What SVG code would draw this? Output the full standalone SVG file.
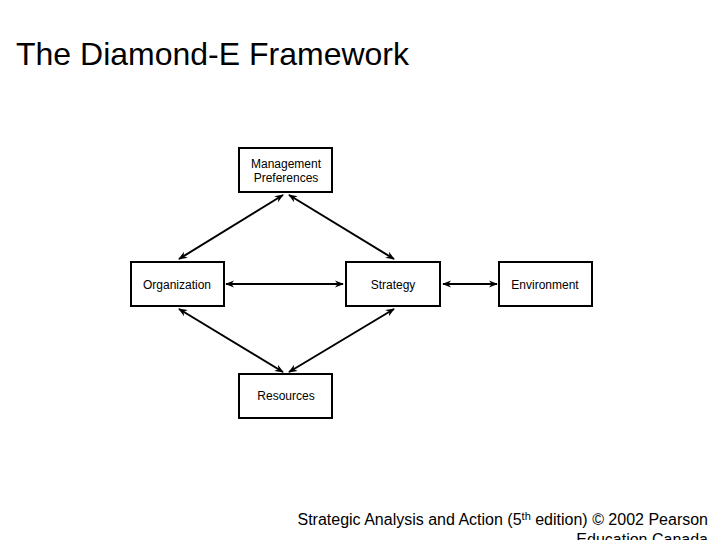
<svg xmlns="http://www.w3.org/2000/svg" width="720" height="540" viewBox="0 0 720 540">
<defs>
<marker id="ah" viewBox="0 0 10 10" refX="9" refY="5" markerWidth="9" markerHeight="9" orient="auto-start-reverse" markerUnits="userSpaceOnUse"><path d="M0,1 L10,5 L0,9 L3,5 z" fill="#000"/></marker>
<style>
.box{fill:#fff;stroke:#000;stroke-width:2}
.t{font-family:"Liberation Sans",Arial,sans-serif;font-size:12px;text-anchor:middle;fill:#000}
.c{stroke:#000;stroke-width:2;fill:none;marker-start:url(#ah);marker-end:url(#ah)}
</style>
</defs>
<rect width="720" height="540" fill="#fff"/>
<text x="16" y="65" font-family="'Liberation Sans',Arial,sans-serif" font-size="32">The Diamond-E Framework</text>
<g id="connectors">
<line class="c" x1="283" y1="195" x2="179" y2="259"/>
<line class="c" x1="289" y1="195" x2="394" y2="259"/>
<line class="c" x1="226" y1="284" x2="343" y2="284"/>
<line class="c" x1="443" y1="284" x2="497" y2="284"/>
<line class="c" x1="179" y1="309" x2="283" y2="372"/>
<line class="c" x1="394" y1="309" x2="289" y2="372"/>
</g>
<g id="mgmt"><rect class="box" x="239" y="148" width="93" height="44"/><text class="t" x="286" y="168">Management</text><text class="t" x="286" y="182">Preferences</text></g>
<g id="org"><rect class="box" x="131" y="262" width="93" height="44"/><text class="t" x="177" y="289">Organization</text></g>
<g id="strategy"><rect class="box" x="346" y="262" width="94" height="44"/><text class="t" x="393" y="289">Strategy</text></g>
<g id="env"><rect class="box" x="499" y="262" width="93" height="44"/><text class="t" x="545" y="289">Environment</text></g>
<g id="res"><rect class="box" x="239" y="374" width="93" height="44"/><text class="t" x="286" y="400">Resources</text></g>
<text x="708" y="525" text-anchor="end" font-family="'Liberation Sans',Arial,sans-serif" font-size="16">Strategic Analysis and Action (5<tspan font-size="11" dy="-5">th</tspan><tspan dy="5"> edition) © 2002 Pearson</tspan></text>
<text x="708" y="545" text-anchor="end" font-family="'Liberation Sans',Arial,sans-serif" font-size="16">Education Canada</text>
</svg>
